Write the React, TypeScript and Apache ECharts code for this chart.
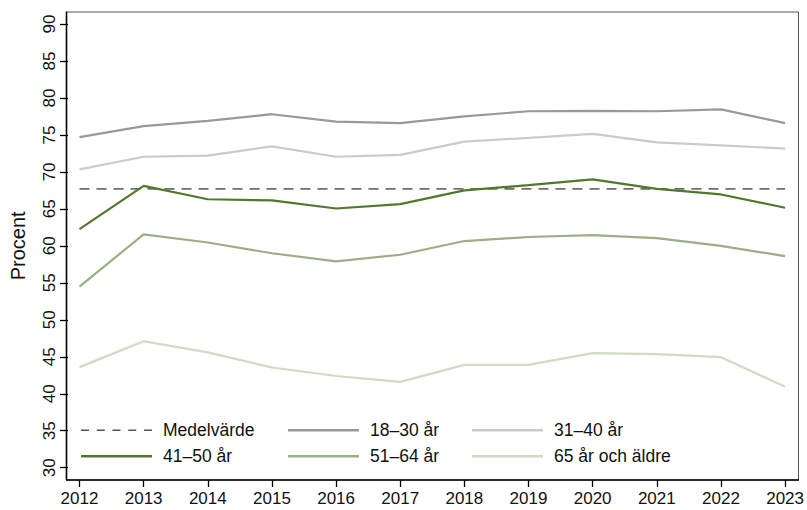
import React, { useEffect, useRef } from "react";
import * as echarts from "echarts";

const YEARS = [2012, 2013, 2014, 2015, 2016, 2017, 2018, 2019, 2020, 2021, 2022, 2023];
const MEAN_VALUE = 67.7;
const AGE_18_30 = [74.7, 76.2, 76.9, 77.8, 76.8, 76.6, 77.5, 78.2, 78.25, 78.2, 78.45, 76.6];
const AGE_31_40 = [70.35, 72.05, 72.2, 73.45, 72.05, 72.3, 74.1, 74.6, 75.15, 74.0, 73.6, 73.15];
const AGE_41_50 = [62.25, 68.1, 66.3, 66.15, 65.05, 65.65, 67.5, 68.2, 69.0, 67.7, 66.95, 65.15];
const AGE_51_64 = [54.5, 61.55, 60.45, 59.0, 57.9, 58.8, 60.65, 61.2, 61.45, 61.05, 60.0, 58.6];
const AGE_65_PLUS = [43.6, 47.1, 45.6, 43.55, 42.4, 41.6, 43.9, 43.9, 45.5, 45.35, 44.95, 40.95];

const Y_TICKS = { min: 30, max: 90, step: 5 };
const NAMES = ["Medelvärde", "18–30 år", "31–40 år", "41–50 år", "51–64 år", "65 år och äldre"];

const COLORS = ["#6e6e6e", "#999999", "#cbcbcb", "#51782c", "#9aaf84", "#d0dac5"];
const LEGEND_DASH_COLOR = "#555555";

const FONT = "'Liberation Sans', Arial, Helvetica, sans-serif";

const DASH_ICON =
  "path://M0,0h8v2h-8z M15.75,0h8v2h-8z M31.5,0h8v2h-8z M47.25,0h8v2h-8z M63,0h8v2h-8z";

export default function App() {
  const ref = useRef<HTMLDivElement>(null);
  useEffect(() => {
    if (!ref.current) return;
    const chart = echarts.init(ref.current, undefined, { renderer: "svg" });
    const seriesData = [
      YEARS.map(() => MEAN_VALUE),
      AGE_18_30,
      AGE_31_40,
      AGE_41_50,
      AGE_51_64,
      AGE_65_PLUS,
    ];
    const series = NAMES.map((name, i) => ({
      name,
      type: "line",
      symbol: "none",
      showSymbol: false,
      data: YEARS.map((y, k) => [y, seriesData[i][k]]),
      lineStyle: {
        color: COLORS[i],
        width: i === 0 ? 1.8 : 2.2,
        type: i === 0 ? [10, 7] : "solid",
      },
      itemStyle: { color: i === 0 ? LEGEND_DASH_COLOR : COLORS[i] },
      z: i === 0 ? 2 : 3,
    }));

    const legendCols = [81, 288, 472];
    const legendRows = [430, 456];
    const legends = NAMES.map((name, i) => {
      const h = i === 0 ? 1.6 : 2.4;
      return {
        data: [{ name, icon: i === 0 ? DASH_ICON : "rect" }],
        left: legendCols[i % 3],
        top: legendRows[Math.floor(i / 3)] - 8.75,
        padding: 0,
        itemWidth: 71,
        itemHeight: h,
        itemGap: 0,
        selectedMode: false,
        symbolKeepAspect: false,
        itemStyle: { borderWidth: 0 },
        lineStyle: { width: 0 },
        textStyle: {
          fontFamily: FONT,
          fontSize: 17.5,
          color: "#111",
          padding: [0, 0, 0, 6],
        },
      };
    });

    chart.setOption({
      animation: false,
      backgroundColor: "#ffffff",
      textStyle: { fontFamily: FONT },
      grid: { left: 78, right: 20.3, top: 24, bottom: 42.3, containLabel: false },
      xAxis: {
        type: "value",
        min: YEARS[0],
        max: YEARS[YEARS.length - 1],
        interval: 1,
        offset: 12.3,
        axisLine: { show: false },
        axisTick: { show: true, length: 7, lineStyle: { color: "#000", width: 1.3 } },
        splitLine: { show: false },
        axisLabel: {
          formatter: (v: number) => String(v),
          fontSize: 17,
          color: "#111",
          margin: 10,
          fontFamily: FONT,
        },
      },
      yAxis: {
        type: "value",
        min: Y_TICKS.min,
        max: Y_TICKS.max,
        interval: Y_TICKS.step,
        offset: 11.5,
        name: "Procent",
        nameLocation: "middle",
        nameRotate: 90,
        nameGap: 40,
        nameTextStyle: { fontSize: 20, color: "#111", fontFamily: FONT },
        axisLine: { show: false },
        axisTick: { show: true, length: 8, lineStyle: { color: "#000", width: 1.3 } },
        splitLine: { show: false },
        axisLabel: {
          rotate: 90,
          fontSize: 17,
          color: "#111",
          margin: 10,
          fontFamily: FONT,
        },
      },
      legend: legends,
      graphic: [
        {
          type: "rect",
          shape: { x: 66.5, y: 12, width: 732, height: 468 },
          style: { fill: "none", stroke: "#555", lineWidth: 1 },
          silent: true,
          z: 1,
        },
        {
          type: "line",
          shape: { x1: 66.5, y1: 11.5, x2: 66.5, y2: 480 },
          style: { stroke: "#000", lineWidth: 1.6 },
          silent: true,
          z: 10,
        },
        {
          type: "line",
          shape: { x1: 66, y1: 480, x2: 799, y2: 480 },
          style: { stroke: "#000", lineWidth: 1.6 },
          silent: true,
          z: 10,
        },
      ],
      series,
    });
    return () => chart.dispose();
  }, []);
  return (
    <div
      ref={ref}
      style={{ position: "fixed", left: 0, top: 0, width: 807, height: 510, background: "#fff" }}
    />
  );
}
